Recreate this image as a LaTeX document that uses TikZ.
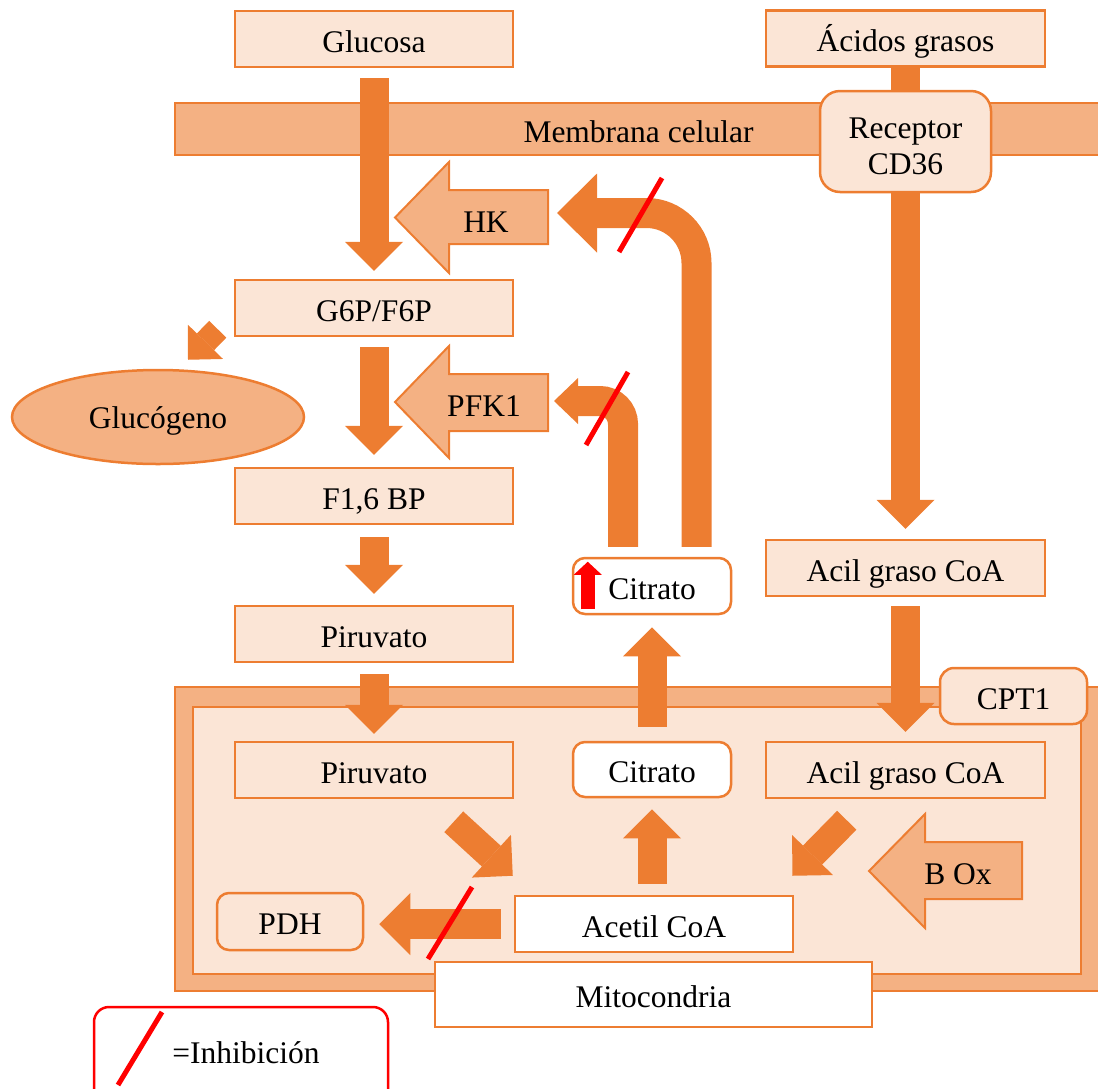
\documentclass[tikz,border=0pt]{standalone}
\usepackage{fontspec}
\setmainfont{Liberation Serif}
\usetikzlibrary{arrows.meta,shapes.geometric,calc}
\definecolor{orC}{HTML}{ED7D31}
\definecolor{medC}{HTML}{F4B183}
\definecolor{lightC}{HTML}{FBE5D6}
\tikzset{
  txt/.style={font=\fontsize{31.5}{36}\selectfont, text=black, text height=26pt, text depth=0pt},
  mtxt/.style={font=\fontsize{31.5}{36}\selectfont, text=black},
  box/.style={txt, draw=orC, line width=2.5pt, fill=lightC, minimum width=278pt, minimum height=56pt, inner sep=0pt},
  rbox/.style={box, rounded corners=12pt},
  wbox/.style={box, fill=white},
  memb/.style={txt, draw=orC, fill=medC, line width=2.5pt, minimum width=927pt, minimum height=52pt, inner sep=0pt},
  bigarrow/.style={draw=orC, line width=29pt, -{Triangle[width=58pt,length=29pt,line width=0pt]}},
  smallarrow/.style={draw=orC, line width=24pt, -{Triangle[width=49pt,length=25pt,line width=0pt]}},
  fbbig/.style={draw=orC, line width=30pt, rounded corners=50pt, -{Triangle[width=79pt,length=40pt,line width=0pt]}},
  fbsmall/.style={draw=orC, line width=30pt, rounded corners=23pt, -{Triangle[width=46pt,length=24pt,line width=0pt]}},
  blockarrow/.style={draw=orC, fill=medC, line width=2pt, line join=miter},
  inhib/.style={draw=red, line width=5pt},
}
\begin{document}
\begin{tikzpicture}[x=1pt,y=-1pt]
\useasboundingbox (0,0) rectangle (1098,1088);
\clip (0,0) rectangle (1098,1088);

% membrane and mitochondrion
\node[memb] (membrana) at (638.5,129) {Membrana celular};
\node[draw=orC, fill=medC, line width=2.5pt, minimum width=927pt, minimum height=304pt, inner sep=0pt] (mitoext) at (638.5,839) {};
\node[draw=orC, fill=lightC, line width=2.5pt, minimum width=888pt, minimum height=267pt, inner sep=0pt] (mitoint) at (637,840.5) {};

% boxes
\node[box] (glucosa) at (374,39) {Glucosa};
\node[box, minimum width=279pt] (acidos) at (905.5,38.5) {Ácidos grasos};
\node[box] (g6p) at (374,308) {G6P/F6P};
\node[box] (f16bp) at (374,496) {F1,6 BP};
\node[box] (piruvatoA) at (374,634) {Piruvato};
\node[box, minimum width=279pt] (acilA) at (905.5,568) {Acil graso CoA};
\node[rbox, fill=white, minimum width=158pt] (citratoA) at (652,586) {Citrato};
\node[box] (piruvatoB) at (374,770) {Piruvato};
\node[rbox, fill=white, minimum width=158pt, minimum height=55pt] (citratoB) at (652,769.5) {Citrato};
\node[box, minimum width=279pt] (acilB) at (905.5,770) {Acil graso CoA};
\node[rbox, minimum width=147pt, rounded corners=14pt] (cpt) at (1013.5,696) {CPT1};
\node[wbox] (acetil) at (654,924) {Acetil CoA};
\node[rbox, minimum width=146pt, minimum height=57pt] (pdh) at (290,921.5) {PDH};
\node[txt, text height=22pt, ellipse, draw=orC, fill=medC, line width=2.5pt, minimum width=292pt, minimum height=94pt, inner sep=0pt] (glucogeno) at (158,417) {Glucógeno};

% enzyme block arrows
\filldraw[blockarrow] (548,190) -- (449,190) -- (449,162) -- (395,217.5) -- (449,273) -- (449,244) -- (548,244) -- cycle;
\node[txt] (hk) at (486,219) {HK};
\filldraw[blockarrow] (548,374) -- (449,374) -- (449,346) -- (395,402) -- (449,458) -- (449,431) -- (548,431) -- cycle;
\node[txt] (pfk) at (484,403) {PFK1};
\filldraw[blockarrow] (1022,842) -- (925,842) -- (925,814) -- (869,871) -- (925,928) -- (925,899) -- (1022,899) -- cycle;
\node[txt] (box) at (958,871) {B Ox};

% main arrows
\draw[bigarrow] ([yshift=-10pt]glucosa.south) -- ([yshift=8pt]g6p.north);
\draw[bigarrow] ([yshift=-10pt]g6p.south) -- ([yshift=12pt]f16bp.north);
\draw[bigarrow] ([yshift=-12pt]f16bp.south) -- ([yshift=11pt]piruvatoA.north);
\draw[bigarrow] ([yshift=-11pt]piruvatoA.south) -- ([yshift=7pt]piruvatoB.north);
\draw[bigarrow] (acidos.south) -- ([yshift=10pt]acilA.north);
\node[rbox, minimum width=171pt, minimum height=101pt, rounded corners=20pt] (receptor) at (905.5,141.5) {};
\node[mtxt, align=center] (receptortxt) at (905.5,146) {Receptor\\CD36};
\draw[bigarrow] ([yshift=-9pt]acilA.south) -- ([yshift=9pt]acilB.north);
\draw[bigarrow] ([yshift=14pt]citratoB.north) -- ([yshift=-12pt]citratoA.south);
\path (citratoB.south |- acetil.north) coordinate (acup);
\draw[bigarrow] ([yshift=11pt]acup) -- ([yshift=-11pt]citratoB.south);
\path (acetil.west) coordinate (pdhA);
\path (pdh.east |- acetil.west) coordinate (pdhB);
\draw[bigarrow, line width=30pt, -{Triangle[width=62pt,length=31pt,line width=0pt]}] ([xshift=-13pt]pdhA) -- ([xshift=15pt]pdhB);

% diagonal arrows
\coordinate (pvstart) at ($(piruvatoB.south east)+(-60.5,22.5)$);
\coordinate (pvtip) at ($(acetil.north west)+(-1,-19)$);
\draw[bigarrow, line width=28pt] (pvstart) -- (pvtip);
\coordinate (acstart) at ($(acilB.south west)+(82,21)$);
\coordinate (actip) at ($(acetil.north east)+(-2,-19)$);
\draw[bigarrow, line width=27pt, -{Triangle[width=57pt,length=29pt,line width=0pt]}] (acstart) -- (actip);
\coordinate (glstart) at ($(g6p.south west)+(-16,-8)$);
\coordinate (gltip) at ($(glucogeno.north)+(30,-9)$);
\draw[smallarrow] (glstart) -- (gltip);

% feedback loops from citrate
\coordinate (fbA) at ($(citratoA.north)+(44.5,-10)$);
\coordinate (hkin) at (557,213);
\draw[fbbig] (fbA) |- (hkin);
\coordinate (fbB) at ($(citratoA.north)+(-29,-10)$);
\coordinate (pfkin) at (554,401);
\draw[fbsmall] (fbB) |- (pfkin);

% red up arrow in citrate
\coordinate (ra1) at ($(citratoA.south west)+(16,-6)$);
\coordinate (ra2) at ($(citratoA.north west)+(16,5)$);
\draw[draw=red, line width=14pt, -{Triangle[width=28pt,length=13pt,line width=0pt]}] (ra1) -- (ra2);

% inhibition marks
\draw[inhib] (662,178) -- (619,252);
\draw[inhib] (628,372) -- (586,445);
\draw[inhib] (472,887) -- (428,959);

% mitochondria label
\node[wbox, minimum width=437pt, minimum height=65pt] (mitolabel) at (653.5,994.5) {Mitocondria};

% legend
\draw[draw=red, line width=2.5pt, rounded corners=15pt] (94,1007) rectangle (388,1110);
\draw[inhib] (162,1012) -- (118,1085);
\node[txt] (legend) at (246,1050) {=Inhibición};
\end{tikzpicture}
\end{document}
